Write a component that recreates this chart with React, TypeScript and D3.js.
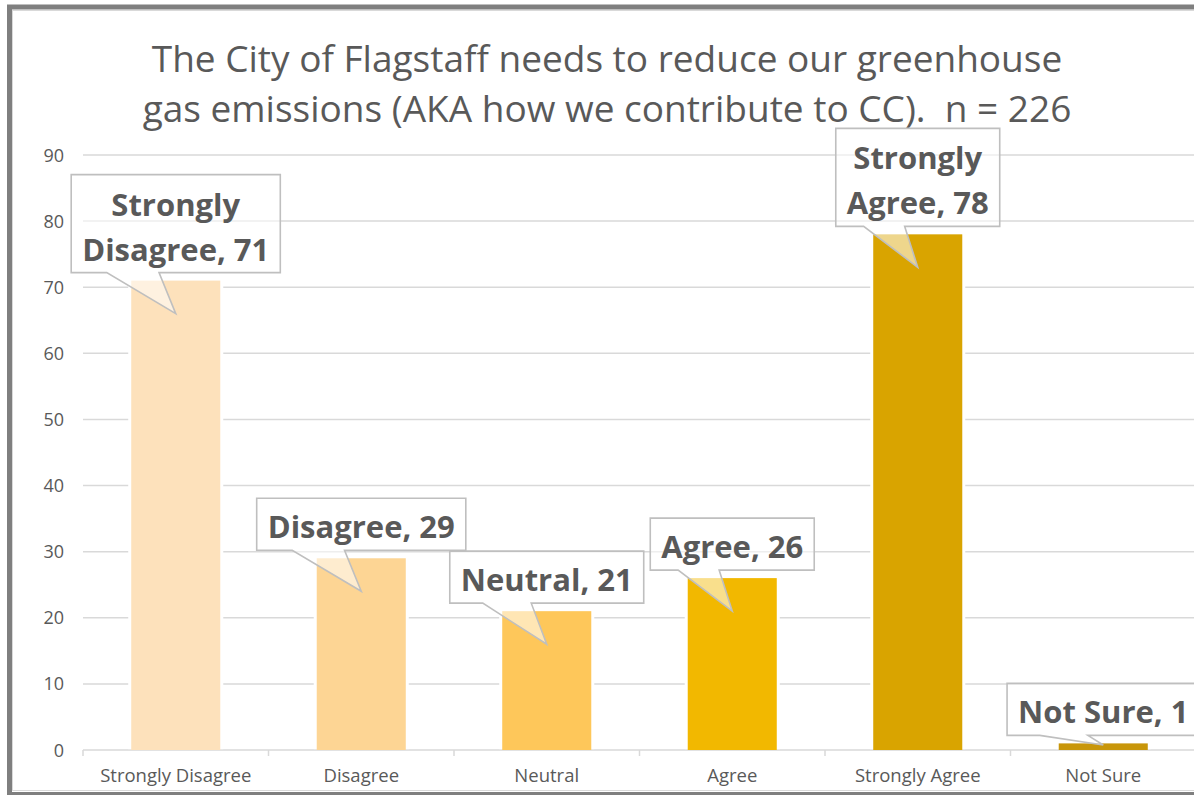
import React, { useEffect, useRef } from "react";
import * as d3 from "d3";

const categories = ["Strongly Disagree", "Disagree", "Neutral", "Agree", "Strongly Agree", "Not Sure"];
const values = [71, 29, 21, 26, 78, 1];
const barColors = ["#fde1bb", "#fdd594", "#fec75a", "#f2b800", "#d9a400", "#c8960a"];
const yTicks = [0, 10, 20, 30, 40, 50, 60, 70, 80, 90];
const titleLines = [
  "The City of Flagstaff needs to reduce our greenhouse",
  "gas emissions (AKA how we contribute to CC).  n = 226",
];

const W = 1194;
const H = 795;
const FONT = "'Open Sans', Lato, sans-serif";
const TEXT = "#595959";

export default function App() {
  const ref = useRef<SVGSVGElement | null>(null);

  useEffect(() => {
    const svg = d3.select(ref.current);
    svg.selectAll("*").remove();

    // frame
    svg.append("rect").attr("x", 0).attr("y", 0).attr("width", W).attr("height", H).attr("fill", "#fff");
    svg.append("rect").attr("x", 9.5).attr("y", 7).attr("width", 1300).attr("height", 787.5)
      .attr("fill", "#fff").attr("stroke", "#7f7f7f").attr("stroke-width", 5);
    svg.append("rect").attr("x", 12.5).attr("y", 10.5).attr("width", 1300).attr("height", 780)
      .attr("fill", "none").attr("stroke", "#d9d9d9").attr("stroke-width", 1);

    const x = d3.scaleBand<string>().domain(categories).range([83, 1196]).paddingInner(0.52).paddingOuter(0.26);
    const y = d3.scaleLinear().domain([0, 90]).range([750, 155]);
    const step = x.step();
    const x0 = 83;

    // title
    svg.append("g").selectAll("text").data(titleLines).join("text")
      .attr("x", 607).attr("y", (_d, i) => 72 + i * 50)
      .attr("text-anchor", "middle").attr("font-family", FONT).attr("font-size", 37)
      .attr("fill", TEXT).style("white-space", "pre").text((d) => d);

    // gridlines
    svg.append("g").selectAll("line").data(yTicks).join("line")
      .attr("x1", x0).attr("x2", W + 5)
      .attr("y1", (d) => y(d)).attr("y2", (d) => y(d))
      .attr("stroke", "#d9d9d9").attr("stroke-width", 1.5);

    // x tick marks
    svg.append("g").selectAll("line").data(d3.range(categories.length + 1)).join("line")
      .attr("x1", (i) => x0 + i * step).attr("x2", (i) => x0 + i * step)
      .attr("y1", y(0)).attr("y2", y(0) + 6)
      .attr("stroke", "#d9d9d9").attr("stroke-width", 1.5);

    // y labels
    svg.append("g").selectAll("text").data(yTicks).join("text")
      .attr("x", 64).attr("y", (d) => y(d) + 6.5)
      .attr("text-anchor", "end").attr("font-family", FONT).attr("font-size", 18)
      .attr("fill", TEXT).text((d) => d);

    // x labels
    svg.append("g").selectAll("text").data(categories).join("text")
      .attr("x", (d) => (x(d) as number) + x.bandwidth() / 2).attr("y", 782)
      .attr("text-anchor", "middle").attr("font-family", FONT).attr("font-size", 18.5)
      .attr("fill", TEXT).text((d) => d);

    const data = categories.map((c, i) => ({ c, v: values[i], color: barColors[i] }));

    // bar halos (white gap against gridlines)
    svg.append("g").selectAll("rect").data(data).join("rect")
      .attr("x", (d) => (x(d.c) as number) - 3).attr("width", x.bandwidth() + 6)
      .attr("y", (d) => y(d.v)).attr("height", (d) => y(0) - y(d.v) - 0.8)
      .attr("fill", "#fff");

    // bars
    svg.append("g").selectAll("rect").data(data).join("rect")
      .attr("x", (d) => x(d.c) as number).attr("width", x.bandwidth())
      .attr("y", (d) => y(d.v)).attr("height", (d) => y(0) - y(d.v))
      .attr("fill", (d) => d.color);

    // callouts
    const cg = svg.append("g");
    data.forEach((d) => {
      const cx = (x(d.c) as number) + x.bandwidth() / 2;
      const top = y(d.v);
      const parts = d.c.startsWith("Strongly ")
        ? ["Strongly", d.c.replace("Strongly ", "") + ", " + d.v]
        : [d.c + ", " + d.v];
      const g = cg.append("g");
      const path = g.append("path");
      const fs = 31;
      const lineH = 45;
      const boxBottom = top - 8;
      const boxH = parts.length === 2 ? 98 : 52;
      const boxTop = boxBottom - boxH;
      const texts = g.selectAll("text").data(parts).join("text")
        .attr("x", cx)
        .attr("y", (_t, i) => boxBottom - 12 - (parts.length - 1 - i) * lineH)
        .attr("text-anchor", "middle").attr("font-family", FONT).attr("font-weight", 700)
        .attr("font-size", fs).attr("fill", TEXT).text((t) => t);
      let tw = 0;
      texts.each(function () {
        tw = Math.max(tw, (this as SVGTextElement).getComputedTextLength());
      });
      const bw = tw + 22;
      const left = cx - bw / 2;
      const right = cx + bw / 2;
      const tipY = Math.min(top + 33, y(0) - 5);
      const baseL = left + bw * 0.17;
      const baseR = left + bw * 0.42;
      path.attr("d",
        `M${left},${boxTop}H${right}V${boxBottom}H${baseR}L${cx},${tipY}L${baseL},${boxBottom}H${left}Z`)
        .attr("fill", "#fff").attr("fill-opacity", 0.55)
        .attr("stroke", "#bfbfbf").attr("stroke-width", 1.6).attr("stroke-linejoin", "miter");
    });
  }, []);

  return (
    <svg ref={ref} width={W} height={H} style={{ position: "absolute", left: 0, top: 0, display: "block" }} />
  );
}
